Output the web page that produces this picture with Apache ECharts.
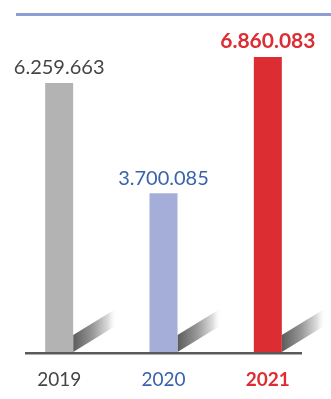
<!DOCTYPE html>
<html><head><meta charset="utf-8">
<script src="https://cdn.jsdelivr.net/npm/echarts@6/dist/echarts.min.js"></script>
<style>html,body{margin:0;padding:0;background:#fff}#c{width:331px;height:399px}</style>
</head><body><div id="c"></div>
<script>
const categories = ['2019', '2020', '2021'];
const values = [6259663, 3700085, 6860083];
const labelTexts = ['6.259.663', '3.700.085', '6.860.083'];
const barColors = ['#b3b3b3', '#a5aed8', '#dc2d33'];
const textColors = ['#454545', '#3a62ac', '#dc2d33'];
const boldFlags = [false, false, true];

const chart = echarts.init(document.getElementById('c'));
const FONT = 'Lato';
chart.setOption({
  animation: false,
  grid: { left: 7, right: 11, top: 51, bottom: 46 },
  xAxis: {
    type: 'category',
    data: categories,
    axisLine: { show: false },
    axisTick: { show: false },
    axisLabel: {
      margin: 17,
      fontFamily: FONT,
      fontSize: 19,
      formatter: (v, i) => boldFlags[i] ? '{b|' + v + '}' : (i === 1 ? '{m|' + v + '}' : '{a|' + v + '}'),
      rich: {
        a: { color: textColors[0], fontFamily: FONT, fontSize: 19 },
        m: { color: textColors[1], fontFamily: FONT, fontSize: 19 },
        b: { color: textColors[2], fontFamily: FONT, fontSize: 19, fontWeight: 'bold' }
      }
    }
  },
  yAxis: { type: 'value', min: 0, max: 7000000, show: false, splitLine: { show: false } },
  series: [
    {
      type: 'custom',
      z: 1,
      data: values.map((v, i) => [i, v]),
      renderItem: function (params, api) {
        const p = api.coord([api.value(0), 0]);
        const x = p[0] + 14, y = p[1] - 1;
        return {
          type: 'polygon',
          shape: { points: [[x, y], [x, y - 17], [x + 44, y - 44], [x + 44, y - 27]] },
          style: {
            fill: new echarts.graphic.LinearGradient(0, 0, 1, 0, [
              { offset: 0, color: '#5c5c5c' },
              { offset: 0.45, color: '#999999' },
              { offset: 0.8, color: '#dddddd' },
              { offset: 1, color: 'rgba(255,255,255,0)' }
            ])
          }
        };
      }
    },
    {
      type: 'bar',
      z: 2,
      barWidth: 28,
      data: values.map((v, i) => ({
        value: v,
        itemStyle: { color: barColors[i] },
        label: {
          show: true,
          position: 'top',
          distance: 5,
          formatter: labelTexts[i],
          color: textColors[i],
          fontFamily: FONT,
          fontSize: boldFlags[i] ? 21 : 20,
          fontWeight: boldFlags[i] ? 'bold' : 'normal'
        }
      }))
    }
  ],
  graphic: [
    { type: 'rect', shape: { x: 16, y: 13, width: 315, height: 3 }, style: { fill: '#8f9ed2' } },
    { type: 'rect', z: 10, shape: { x: 25, y: 352, width: 277, height: 2.5 }, style: { fill: '#5a5a5a' } }
  ]
});
</script></body></html>
